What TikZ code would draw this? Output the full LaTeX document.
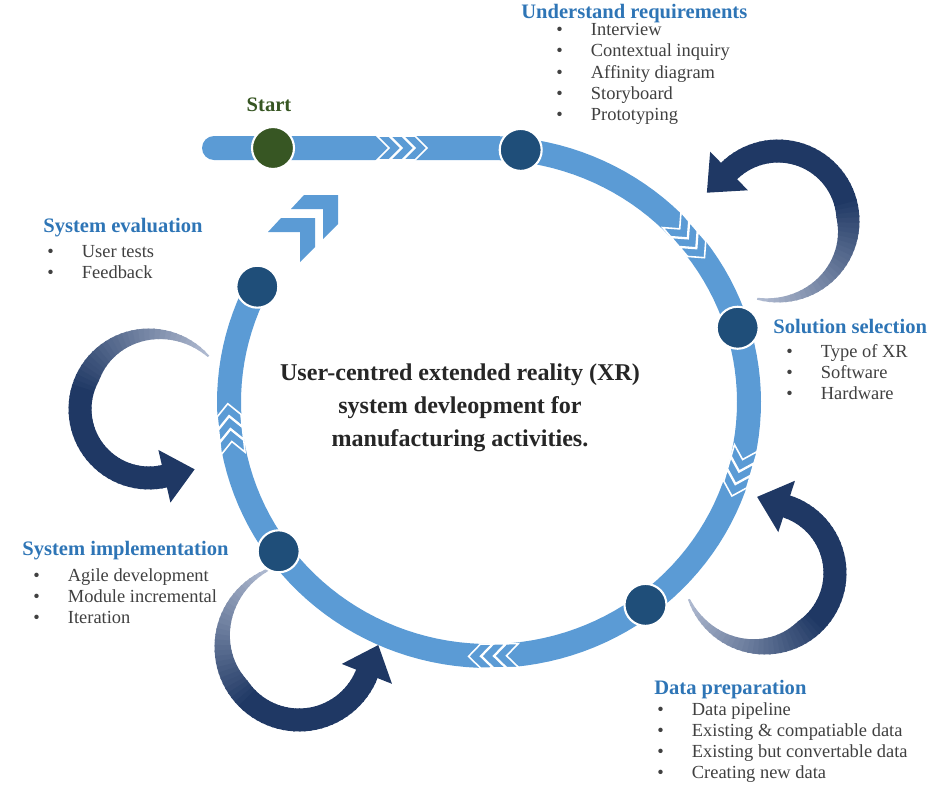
\documentclass[tikz,border=0pt]{standalone}
\usepackage{fontspec}
\setmainfont{Liberation Serif}
\usetikzlibrary{calc}
\definecolor{ringblue}{HTML}{5B9BD5}
\definecolor{dotblue}{HTML}{1F4E79}
\definecolor{startgreen}{HTML}{375623}
\definecolor{headblue}{HTML}{2E75B6}
\definecolor{bodygray}{HTML}{404040}
\definecolor{arrnavy}{HTML}{1F3864}
\definecolor{arrtail}{HTML}{C9D1E3}
\tikzset{
    ringband/.style={draw=ringblue,line width=0.48cm,line cap=round,line join=round},
    ringdot/.style={circle,fill=dotblue,draw=white,line width=1.2pt,minimum size=0.84cm,inner sep=0pt},
    ringchev/.style={fill=ringblue,draw=white,line width=0.9pt},
    phasetitle/.style={anchor=base west,inner sep=0pt,text=headblue,font=\fontsize{11.7}{14}\selectfont\bfseries},
    phaselist/.style={anchor=base west,inner sep=0pt,text=bodygray,font=\fontsize{10.5}{12.1}\selectfont}
}
\newcommand{\itemrows}[1]{\begin{tabular}[t]{@{}l@{\hspace{16pt}}l@{}}#1\end{tabular}}
\newcommand{\bitem}{\textbullet &}
% circular arrow: centre x, centre y, radius, tail angle, head angle
\newcommand{\looparrow}[5]{%
  \pgfmathsetmacro\ro{#3+11.5}
  \foreach \i in {0,...,59}{
    \pgfmathsetmacro\ta{#4+((#5)-(#4))*\i/60}
    \pgfmathsetmacro\tb{#4+((#5)-(#4))*(\i+1.3)/60}
    \pgfmathsetmacro\wa{min(23,2+21*\i/27)}
    \pgfmathsetmacro\wb{min(23,2+21*(\i+1.3)/27)}
    \pgfmathtruncatemacro\pc{min(100,15+85*\i/30)}
    \fill[arrnavy!\pc!arrtail] ({#1+\ro*cos(\ta)},{#2+\ro*sin(\ta)})
      -- ({#1+\ro*cos(\tb)},{#2+\ro*sin(\tb)})
      -- ({#1+(\ro-\wb)*cos(\tb)},{#2+(\ro-\wb)*sin(\tb)})
      -- ({#1+(\ro-\wa)*cos(\ta)},{#2+(\ro-\wa)*sin(\ta)}) -- cycle;
  }
  \pgfmathsetmacro\ex{#1+#3*cos(#5)}
  \pgfmathsetmacro\ey{#2+#3*sin(#5)}
  \fill[arrnavy] ({#1+(#3+27)*cos(#5)},{#2+(#3+27)*sin(#5)})
    -- ({#1+(#3-27)*cos(#5)},{#2+(#3-27)*sin(#5)})
    -- ({\ex+31*sin(#5)},{\ey-31*cos(#5)}) -- cycle;
}

\begin{document}
\begin{tikzpicture}[x=0.02cm,y=-0.02cm]
  \useasboundingbox (0,0) rectangle (932,785);

  % feedback loops
  \looparrow{778}{221}{70}{105}{-134.4}
  \looparrow{765}{573}{70}{161}{-72}
  \looparrow{299}{647}{73}{250}{21.6}
  \looparrow{149}{409}{69}{-41.5}{-282.9}

  % process ring
  \draw[ringband] (214,148) -- (489,148)
    -- plot[domain=-90:207,samples=120] ({489+260*cos(\x)},{402+254*sin(\x)});

  \begin{scope}[shift={(402,148)}]
    \foreach \d in {-13,0,13}
      \filldraw[ringchev] (\d-12,-12) -- (\d,-12) -- (\d+12,0) -- (\d,12) -- (\d-12,12) -- (\d,0) -- cycle;
  \end{scope}
  \foreach \t in {-40,16,89,174}{
    \pgfmathsetmacro\ph{atan2(-254*cos(\t),-260*sin(\t))}
    \begin{scope}[shift={({489+260*cos(\t)},{402+254*sin(\t)})},rotate=\ph]
      \foreach \d in {-13,0,13}
        \filldraw[ringchev] (\d-12,-12) -- (\d,-12) -- (\d+12,0) -- (\d,12) -- (\d-12,12) -- (\d,0) -- cycle;
    \end{scope}
  }
  % corner chevrons towards the start line
  \foreach \cx/\cy in {315/218,338/195}
    \fill[ringblue] (\cx-47,\cy+14) -- (\cx-34,\cy) -- (\cx,\cy) -- (\cx,\cy+29)
      -- (\cx-15,\cy+44) -- (\cx-15,\cy+14) -- cycle;

  \node[ringdot,fill=startgreen] (start) at (273,148) {};
  \foreach \t/\nm in {-83/ur,-17/ss,53/dp,144/si,207/se}
    \node[ringdot] (\nm) at ({489+260*cos(\t)},{402+254*sin(\t)}) {};

  % labels
  \node[phasetitle,anchor=base,text=startgreen] (starttxt) at (269,111) {Start};

  \node[phasetitle] (urt) at (521,18) {Understand requirements};
  \node[phaselist] (url) at (556,35.5) {\itemrows{\bitem Interview\\ \bitem Contextual inquiry\\
    \bitem Affinity diagram\\ \bitem Storyboard\\ \bitem Prototyping}};

  \node[phasetitle] (sst) at (773,333) {Solution selection};
  \node[phaselist] (ssl) at (786,357) {\itemrows{\bitem Type of XR\\ \bitem Software\\ \bitem Hardware}};

  \node[phasetitle] (dpt) at (654,694) {Data preparation};
  \node[phaselist] (dpl) at (657,715) {\itemrows{\bitem Data pipeline\\ \bitem Existing \& compatiable data\\
    \bitem Existing but convertable data\\ \bitem Creating new data}};

  \node[phasetitle] (sit) at (22,555) {System implementation};
  \node[phaselist] (sil) at (33,581) {\itemrows{\bitem Agile development\\ \bitem Module incremental\\ \bitem Iteration}};

  \node[phasetitle] (set) at (43,232) {System evaluation};
  \node[phaselist] (sel) at (47,257) {\itemrows{\bitem User tests\\ \bitem Feedback}};

  \node[align=center,text=black!85,font=\fontsize{13.7}{18.7}\selectfont\bfseries] (title) at (460,408)
    {User-centred extended reality (XR)\\ system devleopment for\\ manufacturing activities.};
\end{tikzpicture}
\end{document}
